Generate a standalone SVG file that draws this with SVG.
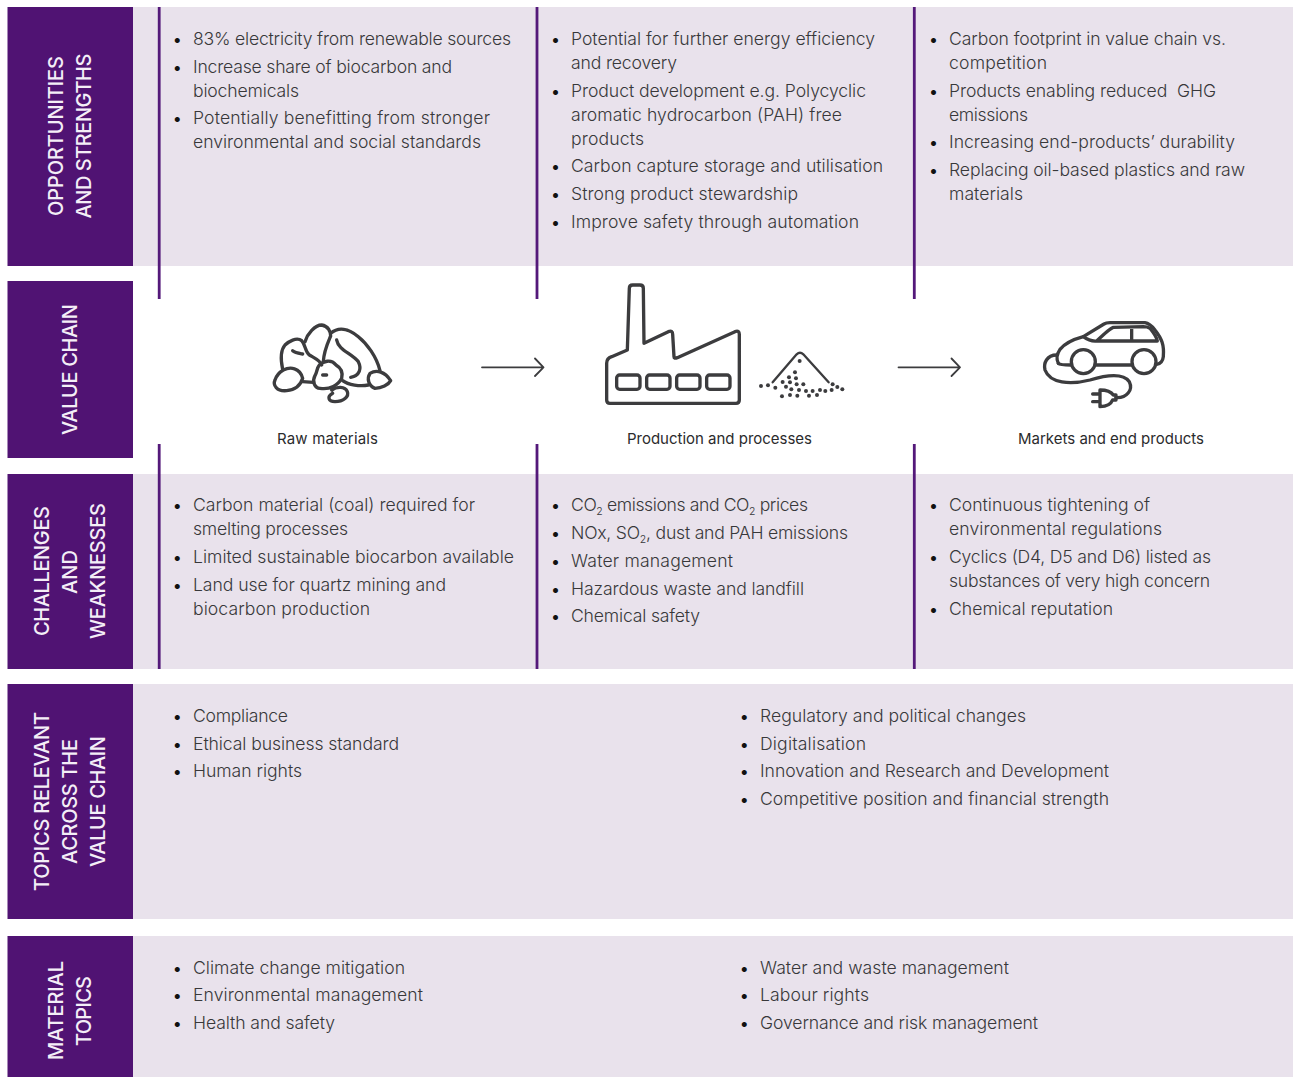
<svg xmlns="http://www.w3.org/2000/svg" width="1295" height="1077" viewBox="0 0 1295 1077">
<style>
.bg{fill:#e9e2ec}.hd{fill:#501373}
.hl{font:500 20px Inter,"Liberation Sans",sans-serif;fill:#f4eef7;text-anchor:middle}
.t{font:300 17.6px Inter,"Liberation Sans",sans-serif;fill:#38383a}
.b{font:400 16px Inter,"Liberation Sans",sans-serif;fill:#111;text-anchor:middle}
.c{font:400 15px Inter,"Liberation Sans",sans-serif;fill:#2b2b2d;text-anchor:middle}
.s{font-size:10.500px}
.v{stroke:#54197a;stroke-width:2.800;fill:none}
.i{fill:none;stroke:#3c3c3e;stroke-width:10;stroke-linecap:round;stroke-linejoin:round}
.a{fill:none;stroke:#3c3c3e;stroke-width:1.800;stroke-linecap:round;stroke-linejoin:round}
.d{fill:#3c3c3e}
</style>
<g id="row-opportunities">
<rect class="bg" x="133" y="7" width="1160" height="259"/><rect class="hd" x="7.500" y="7" width="125.500" height="259"/>
<text class="hl" transform="translate(63,136) rotate(-90)" textLength="160">OPPORTUNITIES</text>
<text class="hl" transform="translate(91,136) rotate(-90)" textLength="165">AND STRENGTHS</text>
<text class="b" x="177.300" y="45">•</text><text class="t" x="193" y="45" textLength="318">83% electricity from renewable sources</text>
<text class="b" x="177.300" y="73">•</text><text class="t" x="193" y="73" textLength="259">Increase share of biocarbon and</text><text class="t" x="193" y="97" textLength="106">biochemicals</text>
<text class="b" x="177.300" y="124">•</text><text class="t" x="193" y="124" textLength="297">Potentially benefitting from stronger</text><text class="t" x="193" y="148" textLength="288">environmental and social standards</text>
<text class="b" x="555.500" y="45">•</text><text class="t" x="571" y="45" textLength="304">Potential for further energy efficiency</text><text class="t" x="571" y="69" textLength="106">and recovery</text>
<text class="b" x="555.500" y="97">•</text><text class="t" x="571" y="97" textLength="295">Product development e.g. Polycyclic</text><text class="t" x="571" y="121" textLength="271">aromatic hydrocarbon (PAH) free</text><text class="t" x="571" y="145" textLength="73">products</text>
<text class="b" x="555.500" y="172">•</text><text class="t" x="571" y="172" textLength="312">Carbon capture storage and utilisation</text>
<text class="b" x="555.500" y="200">•</text><text class="t" x="571" y="200" textLength="227">Strong product stewardship</text>
<text class="b" x="555.500" y="228">•</text><text class="t" x="571" y="228" textLength="288">Improve safety through automation</text>
<text class="b" x="933.500" y="45">•</text><text class="t" x="949" y="45" textLength="277">Carbon footprint in value chain vs.</text><text class="t" x="949" y="69" textLength="98">competition</text>
<text class="b" x="933.500" y="97">•</text><text class="t" x="949" y="97" xml:space="preserve" textLength="267">Products enabling reduced  GHG</text><text class="t" x="949" y="121" textLength="79">emissions</text>
<text class="b" x="933.500" y="148">•</text><text class="t" x="949" y="148" textLength="286">Increasing end-products’ durability</text>
<text class="b" x="933.500" y="176">•</text><text class="t" x="949" y="176" textLength="296">Replacing oil-based plastics and raw</text><text class="t" x="949" y="200" textLength="74">materials</text>
</g>
<g id="row-value-chain">
<rect class="hd" x="7.500" y="281" width="125.500" height="177"/>
<text class="hl" transform="translate(77,369.500) rotate(-90)" textLength="131">VALUE CHAIN</text>
<text class="c" x="327.500" y="444" textLength="101">Raw materials</text>
<text class="c" x="719.500" y="444" textLength="185">Production and processes</text>
<text class="c" x="1111" y="444" textLength="186">Markets and end products</text>
</g>
<g id="icon-rocks" transform="translate(260,310) scale(.3333)" class="i">
<path d="M68 178C62 150 62 120 75 105C85 95 110 80 125 92C137 105 135 125 148 135C165 145 180 150 185 165"/>
<path d="M135 95C142 72 165 45 185 45C205 48 212 65 212 78C205 95 192 120 190 155"/>
<path d="M212 70C235 50 265 55 295 80C320 100 350 140 360 182"/>
<path d="M230 90C235 120 275 130 295 155C305 175 300 197 272 202"/>
<path d="M70 180C90 170 120 172 128 205C122 225 105 240 80 242C50 245 38 225 45 210C50 195 58 187 70 180Z"/>
<path d="M128 215L160 217M188 195L200 195M98 122C105 128 118 130 128 132M248 212C265 225 300 230 325 225"/>
<path d="M178 165C190 155 212 145 228 165C240 172 250 185 245 205C235 225 210 240 180 235C165 235 155 215 165 197C172 185 170 175 178 165Z"/>
<path d="M215 240C230 230 255 228 262 245C268 260 250 275 225 275C205 275 200 260 218 250"/>
<path d="M330 190C350 178 375 185 392 212C385 225 365 235 345 235C325 228 320 205 330 190Z"/>
</g>
<g id="icon-factory" transform="translate(590,275) scale(.3333)">
<g class="i">
<path d="M50 265Q50 250 65 245L112 225L118 40Q118 30 128 30L150 30Q160 30 160 40L162 205L235 170Q248 165 248 178L252 245Q252 252 262 248L435 170Q448 165 448 178L448 375Q448 385 438 385L60 385Q50 385 50 375Z"/>
<rect x="80" y="300" width="70" height="43" rx="9"/><rect x="170" y="300" width="70" height="43" rx="9"/><rect x="260" y="300" width="70" height="43" rx="9"/><rect x="350" y="300" width="70" height="43" rx="9"/>
<path stroke-width="7" d="M548 322L620 238Q630 228 640 238L716 322"/>
</g>
<g class="d">
<circle cx="513" cy="333" r="6"/><circle cx="534" cy="331" r="6"/><circle cx="556" cy="338" r="6"/><circle cx="578" cy="321" r="6"/><circle cx="597" cy="307" r="6"/><circle cx="615" cy="292" r="6"/><circle cx="629" cy="258" r="6"/><circle cx="600" cy="322" r="6"/><circle cx="618" cy="310" r="6"/><circle cx="588" cy="335" r="6"/><circle cx="604" cy="343" r="6"/><circle cx="620" cy="328" r="6"/><circle cx="640" cy="328" r="6"/><circle cx="627" cy="345" r="6"/><circle cx="648" cy="348" r="6"/><circle cx="668" cy="348" r="6"/><circle cx="690" cy="345" r="6"/><circle cx="706" cy="348" r="6"/><circle cx="725" cy="345" r="6"/><circle cx="728" cy="328" r="6"/><circle cx="742" cy="336" r="6"/><circle cx="757" cy="343" r="6"/><circle cx="576" cy="364" r="6"/><circle cx="600" cy="360" r="6"/><circle cx="622" cy="362" r="6"/><circle cx="657" cy="362" r="6"/><circle cx="681" cy="360" r="6"/>
</g>
</g>
<g id="icon-car" transform="translate(1030,310) scale(.3333)" class="i">
<path d="M85 160Q75 140 90 118C105 100 130 88 160 80L222 42Q228 38 240 38L345 38Q360 40 375 60C395 85 403 105 400 140Q398 160 380 163"/>
<circle cx="160" cy="155" r="36"/><circle cx="342" cy="155" r="36"/>
<path d="M85 160Q90 165 122 165M197 165L305 165"/>
<path d="M160 80Q180 95 200 93L382 93Q380 80 360 55Q352 50 340 50L250 52Q240 55 200 93M305 55L305 93"/>
<path d="M80 135C50 135 40 160 45 180C60 220 120 225 180 210C230 195 280 190 298 215C310 240 290 265 258 263"/>
<path d="M210 240Q240 240 250 255L258 255L258 270L248 270Q240 290 210 290ZM210 252L188 252M210 275L188 275"/>
</g>
<g id="row-challenges">
<rect class="bg" x="133" y="474" width="1160" height="195"/><rect class="hd" x="7.500" y="474" width="125.500" height="195"/>
<text class="hl" transform="translate(49,571) rotate(-90)" textLength="130">CHALLENGES</text>
<text class="hl" transform="translate(77,572) rotate(-90)">AND</text>
<text class="hl" transform="translate(105,571) rotate(-90)" textLength="136">WEAKNESSES</text>
<text class="b" x="177.300" y="511">•</text><text class="t" x="193" y="511" textLength="282">Carbon material (coal) required for</text><text class="t" x="193" y="535" textLength="155">smelting processes</text>
<text class="b" x="177.300" y="563">•</text><text class="t" x="193" y="563" textLength="321">Limited sustainable biocarbon available</text>
<text class="b" x="177.300" y="591">•</text><text class="t" x="193" y="591" textLength="253">Land use for quartz mining and</text><text class="t" x="193" y="615" textLength="177">biocarbon production</text>
<text class="b" x="555.500" y="511">•</text><text class="t" x="571" y="511" textLength="237">CO<tspan class="s" dy="4">2</tspan><tspan dy="-4"> emissions and CO</tspan><tspan class="s" dy="4">2</tspan><tspan dy="-4"> prices</tspan></text>
<text class="b" x="555.500" y="539">•</text><text class="t" x="571" y="539" textLength="277">NOx, SO<tspan class="s" dy="4">2</tspan><tspan dy="-4">, dust and PAH emissions</tspan></text>
<text class="b" x="555.500" y="567">•</text><text class="t" x="571" y="567" textLength="162">Water management</text>
<text class="b" x="555.500" y="595">•</text><text class="t" x="571" y="595" textLength="233">Hazardous waste and landfill</text>
<text class="b" x="555.500" y="622">•</text><text class="t" x="571" y="622" textLength="129">Chemical safety</text>
<text class="b" x="933.500" y="511">•</text><text class="t" x="949" y="511" textLength="201">Continuous tightening of</text><text class="t" x="949" y="535" textLength="213">environmental regulations</text>
<text class="b" x="933.500" y="563">•</text><text class="t" x="949" y="563" textLength="262">Cyclics (D4, D5 and D6) listed as</text><text class="t" x="949" y="587" textLength="261">substances of very high concern</text>
<text class="b" x="933.500" y="615">•</text><text class="t" x="949" y="615" textLength="164">Chemical reputation</text>
</g>
<g id="row-topics">
<rect class="bg" x="133" y="684" width="1160" height="235"/><rect class="hd" x="7.500" y="684" width="125.500" height="235"/>
<text class="hl" transform="translate(49,801.500) rotate(-90)" textLength="179">TOPICS RELEVANT</text>
<text class="hl" transform="translate(77,801.500) rotate(-90)" textLength="125">ACROSS THE</text>
<text class="hl" transform="translate(105,801.500) rotate(-90)" textLength="131">VALUE CHAIN</text>
<text class="b" x="177.300" y="722">•</text><text class="t" x="193" y="722" textLength="95">Compliance</text>
<text class="b" x="177.300" y="750">•</text><text class="t" x="193" y="750" textLength="206">Ethical business standard</text>
<text class="b" x="177.300" y="777">•</text><text class="t" x="193" y="777" textLength="109">Human rights</text>
<text class="b" x="744.300" y="722">•</text><text class="t" x="760" y="722" textLength="266">Regulatory and political changes</text>
<text class="b" x="744.300" y="750">•</text><text class="t" x="760" y="750" textLength="106">Digitalisation</text>
<text class="b" x="744.300" y="777">•</text><text class="t" x="760" y="777" textLength="349">Innovation and Research and Development</text>
<text class="b" x="744.300" y="805">•</text><text class="t" x="760" y="805" textLength="349">Competitive position and financial strength</text>
</g>
<g id="row-material">
<rect class="bg" x="133" y="936" width="1160" height="141"/><rect class="hd" x="7.500" y="936" width="125.500" height="141"/>
<text class="hl" transform="translate(63,1010.500) rotate(-90)" textLength="99">MATERIAL</text>
<text class="hl" transform="translate(91,1011) rotate(-90)" textLength="70">TOPICS</text>
<text class="b" x="177.300" y="974">•</text><text class="t" x="193" y="974" textLength="212">Climate change mitigation</text>
<text class="b" x="177.300" y="1001">•</text><text class="t" x="193" y="1001" textLength="230">Environmental management</text>
<text class="b" x="177.300" y="1029">•</text><text class="t" x="193" y="1029" textLength="142">Health and safety</text>
<text class="b" x="744.300" y="974">•</text><text class="t" x="760" y="974" textLength="249">Water and waste management</text>
<text class="b" x="744.300" y="1001">•</text><text class="t" x="760" y="1001" textLength="109">Labour rights</text>
<text class="b" x="744.300" y="1029">•</text><text class="t" x="760" y="1029" textLength="278">Governance and risk management</text>
</g>
<g id="connectors">
<path class="v" d="M159.200 7V299M537 7V299M914.300 7V299M159.200 444V669M537 444V669M914.300 444V669"/>
<path class="a" d="M482 367.300H543.500M535 358.500L543.500 367.300L535 376"/>
<path class="a" d="M898.500 367.300H960M951.500 358.500L960 367.300L951.500 376"/>
</g>
</svg>
